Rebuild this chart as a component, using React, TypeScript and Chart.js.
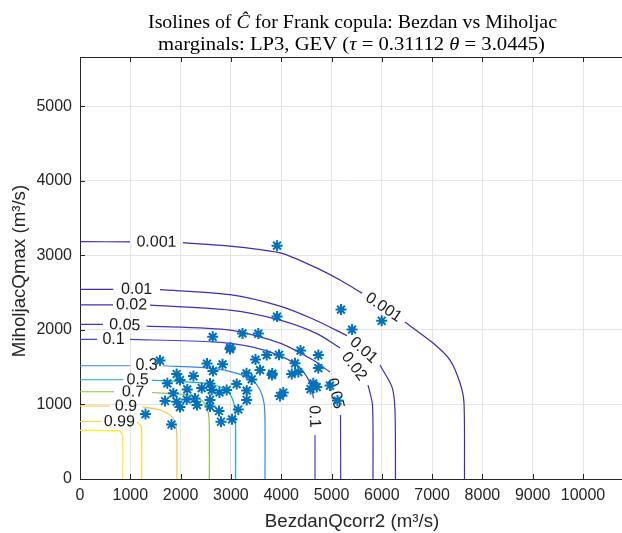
import React, { useEffect, useRef } from "react";
import { Chart, registerables } from "chart.js";

Chart.register(...registerables);

// Axis limits and ticks
const X_MAX = 10775;
const Y_MAX = 5660;
const X_TICKS = [0, 1000, 2000, 3000, 4000, 5000, 6000, 7000, 8000, 9000, 10000];
const Y_TICKS = [0, 1000, 2000, 3000, 4000, 5000];

// Observed annual maxima pairs (m3/s)
const BEZDAN_Q = [
  3917, 5189, 5998, 5408, 3917, 2638, 3231, 3545, 2988, 2982, 4384, 3712, 3956, 4738,
  3489, 1590, 4274, 4738, 3579, 3823, 3817, 4209, 4340, 3310, 3414, 4638, 4706, 4583,
  4970, 4042, 5119, 2525, 2833, 2644, 1922, 2256, 1988, 1736, 2584, 3115, 2420, 2133,
  2618, 2916, 2773, 3314, 3976, 1855, 1690, 1922, 2121, 2286, 2326, 1988, 2584, 3314,
  2584, 2763, 3147, 2803, 3022, 1302, 1819,
];
const MIHOLJAC_Q = [
  3130, 2272, 2122, 2004, 2178, 1907, 1953, 1950, 1763, 1743, 1723, 1662, 1666, 1662,
  1602, 1588, 1551, 1488, 1461, 1414, 1394, 1408, 1434, 1417, 1336, 1283, 1233, 1206,
  1253, 1160, 1052, 1548, 1538, 1448, 1408, 1381, 1327, 1283, 1280, 1273, 1220, 1202,
  1193, 1193, 1160, 1186, 1113, 1149, 1046, 1036, 1066, 1079, 992, 965, 1059, 1059,
  972, 912, 932, 768, 800, 871, 731,
];

// Isolines of the survival copula; null marks where an inline label breaks the line
const LEVELS = ["0.001", "0.01", "0.02", "0.05", "0.1", "0.3", "0.5", "0.7", "0.9", "0.99", "0.999"];
const LEVEL_COLORS = [
  "#3d2bb0", "#3e2eb6", "#3f30bb", "#4034c2", "#4540d4", "#2e88ee",
  "#17b3b8", "#8dc63c", "#f6c532", "#f3e02a", "#f8f218",
];
const ISO_0001_X = [0, 994, null, 2048, 2982, 3579, 4036, 4712, 5169, 5607, null, 6461, 7018, 7356, 7555, 7634, 7644];
const ISO_0001_Y = [3184, 3180, null, 3170, 3123, 3076, 3023, 2828, 2668, 2493, null, 2105, 1823, 1595, 1287, 1019, 0];
const ISO_001_X = [0, 662, null, 1590, 2982, 3976, 4632, 5308, null, 5964, 6203, 6262, 6272];
const ISO_001_Y = [2544, 2544, null, 2540, 2473, 2319, 2145, 1923, null, 1528, 1233, 925, 0];
const ISO_002_X = [0, 656, null, 1392, 2982, 3976, 4712, 5169, null, 5726, 5815, 5825];
const ISO_002_Y = [2336, 2336, null, 2332, 2265, 2131, 1950, 1756, null, 1260, 992, 0];
const ISO_005_X = [0, 457, null, 1326, 2982, 3976, 4632, 4970, null, 5179, 5183];
const ISO_005_Y = [2074, 2074, null, 2051, 1997, 1823, 1595, 1434, null, 858, 0];
const ISO_01_X = [0, 338, null, 994, 2644, 3439, 4036, 4374, 4573, 4642, null, 4672, 4672];
const ISO_01_Y = [1872, 1872, null, 1872, 1839, 1769, 1635, 1488, 1287, 1086, null, 590, 0];
const ISO_03_X = [0, 994, null, 1650, 2644, 3121, 3420, 3579, 3658, 3678, 3678];
const ISO_03_Y = [1519, 1519, null, 1519, 1484, 1417, 1327, 1193, 1019, 791, 0];
const ISO_05_X = [0, 861, null, 1431, 2525, 2922, 3052, 3091, 3095];
const ISO_05_Y = [1331, 1331, null, 1327, 1280, 1193, 1032, 791, 0];
const ISO_07_X = [0, 676, null, 1431, 2187, 2445, 2551, 2571, 2571];
const ISO_07_Y = [1170, 1170, null, 1160, 1126, 1039, 885, 700, 0];
const ISO_09_X = [0, 596, null, 1233, 1590, 1823, 1909, 1928, 1928];
const ISO_09_Y = [979, 979, null, 969, 925, 836, 701, 523, 0];
const ISO_099_X = [0, 431, null, 1133, 1213, 1227, 1227];
const ISO_099_Y = [771, 771, null, 764, 710, 590, 0];
const ISO_0999_X = [0, 761, 829, 849, 849];
const ISO_0999_Y = [653, 648, 612, 523, 0];

const ISO_XS = [ISO_0001_X, ISO_001_X, ISO_002_X, ISO_005_X, ISO_01_X, ISO_03_X, ISO_05_X, ISO_07_X, ISO_09_X, ISO_099_X, ISO_0999_X];
const ISO_YS = [ISO_0001_Y, ISO_001_Y, ISO_002_Y, ISO_005_Y, ISO_01_Y, ISO_03_Y, ISO_05_Y, ISO_07_Y, ISO_09_Y, ISO_099_Y, ISO_0999_Y];

const AXIS_COLOR = "#262626";
const GRID_COLOR = "#e4e4e4";
const MARKER_COLOR = "#0072bd";
const SANS = "'Liberation Sans', Arial, Helvetica, sans-serif";
const SERIF = "'Liberation Serif', 'Times New Roman', serif";

type Seg = [string, boolean];
const TITLE_LINES: Seg[][] = [
  [["Isolines of ", false], ["Ĉ", true], [" for Frank copula: Bezdan vs Miholjac", false]],
  [["marginals: LP3, GEV (", false], ["τ", true], [" = 0.31112 ", false], ["θ", true], [" = 3.0445)", false]],
];
const TITLE_WIDTHS = [409, 387];

function toPoints(xs: (number | null)[], ys: (number | null)[]) {
  const pts: { x: number; y: number | null }[] = [];
  xs.forEach((x, i) => {
    if (x === null || ys[i] === null) {
      const prev = pts.length ? pts[pts.length - 1].x : 0;
      pts.push({ x: prev, y: null });
    } else {
      pts.push({ x, y: ys[i] as number });
    }
  });
  return pts;
}

// Draws a line of mixed upright/italic text, centred and stretched to a given width
function drawSegments(ctx: CanvasRenderingContext2D, segs: Seg[], cx: number, baseline: number, size: number, width: number) {
  const fontFor = (it: boolean) => `${it ? "italic " : ""}${size}px ${SERIF}`;
  let total = 0;
  const widths = segs.map(([t, it]) => {
    ctx.font = fontFor(it);
    const w = ctx.measureText(t).width;
    total += w;
    return w;
  });
  const sx = width / total;
  ctx.save();
  ctx.translate(cx - width / 2, baseline);
  ctx.scale(sx, 1);
  ctx.textAlign = "left";
  ctx.textBaseline = "alphabetic";
  let x = 0;
  segs.forEach(([t, it], i) => {
    ctx.font = fontFor(it);
    ctx.fillText(t, x, 0);
    x += widths[i];
  });
  ctx.restore();
}

const contourLabels = {
  id: "contourLabels",
  beforeDatasetDraw(chart: any, args: any) {
    if (args.index !== 0) return;
    const { ctx, scales } = chart;
    const xs = scales.x;
    const ys = scales.y;
    ctx.save();
    ctx.fillStyle = "#1a1a1a";
    ctx.font = `16px ${SANS}`;
    ctx.textAlign = "center";
    ctx.textBaseline = "middle";
    ISO_XS.forEach((xArr, li) => {
      const yArr = ISO_YS[li];
      xArr.forEach((x, i) => {
        if (x !== null) return;
        const x0 = xs.getPixelForValue(xArr[i - 1] as number);
        const y0 = ys.getPixelForValue(yArr[i - 1] as number);
        const x1 = xs.getPixelForValue(xArr[i + 1] as number);
        const y1 = ys.getPixelForValue(yArr[i + 1] as number);
        let ang = Math.atan2(y1 - y0, x1 - x0);
        if (ang > Math.PI / 2) ang -= Math.PI;
        if (ang < -Math.PI / 2) ang += Math.PI;
        ctx.save();
        ctx.translate((x0 + x1) / 2, (y0 + y1) / 2);
        ctx.rotate(ang);
        ctx.fillText(LEVELS[li], 0, 0);
        ctx.restore();
      });
    });
    ctx.restore();
  },
};

const frame = {
  id: "frame",
  afterDraw(chart: any) {
    const { ctx, chartArea, scales } = chart;
    const { left, top, right, bottom } = chartArea;
    ctx.save();
    ctx.strokeStyle = AXIS_COLOR;
    ctx.lineWidth = 1;
    ctx.beginPath();
    ctx.moveTo(left, Math.round(top) + 0.5);
    ctx.lineTo(right, Math.round(top) + 0.5);
    X_TICKS.forEach((v) => {
      const px = Math.round(scales.x.getPixelForValue(v)) + 0.5;
      ctx.moveTo(px, bottom);
      ctx.lineTo(px, bottom - 5);
      ctx.moveTo(px, top);
      ctx.lineTo(px, top + 5);
    });
    Y_TICKS.forEach((v) => {
      const py = Math.round(scales.y.getPixelForValue(v)) + 0.5;
      ctx.moveTo(left, py);
      ctx.lineTo(left + 5, py);
    });
    ctx.stroke();

    // Title
    ctx.fillStyle = "#000";
    drawSegments(ctx, TITLE_LINES[0], 352.5, 27.5, 18, TITLE_WIDTHS[0]);
    drawSegments(ctx, TITLE_LINES[1], 351.5, 49.5, 18, TITLE_WIDTHS[1]);

    // Axis titles
    ctx.fillStyle = AXIS_COLOR;
    ctx.font = `18.7px ${SANS}`;
    ctx.textAlign = "center";
    ctx.textBaseline = "middle";
    ctx.fillText("BezdanQcorr2 (m³/s)", 352, 522);
    ctx.save();
    ctx.translate(20, 271);
    ctx.rotate(-Math.PI / 2);
    ctx.fillText("MiholjacQmax (m³/s)", 0, 0);
    ctx.restore();
    ctx.restore();
  },
};

export default function App() {
  const ref = useRef<HTMLCanvasElement>(null);

  useEffect(() => {
    const canvas = ref.current;
    if (!canvas) return;

    const scatter = {
      data: BEZDAN_Q.map((x, i) => ({ x, y: MIHOLJAC_Q[i] })),
      showLine: false,
      pointStyle: "star",
      pointRadius: 5.5,
      pointBorderWidth: 2,
      pointBorderColor: MARKER_COLOR,
      pointBackgroundColor: MARKER_COLOR,
      borderColor: MARKER_COLOR,
    };
    const isolines = ISO_XS.map((xArr, li) => ({
      data: toPoints(xArr, ISO_YS[li]),
      borderColor: LEVEL_COLORS[li],
      borderWidth: 1.2,
      pointRadius: 0,
      tension: 0.25,
      spanGaps: false,
      fill: false,
    }));

    const tickFont = { family: SANS, size: 16 };

    const chart = new Chart(canvas, {
      type: "line",
      data: { datasets: [scatter, ...isolines] as any },
      options: {
        responsive: false,
        animation: false,
        devicePixelRatio: 1,
        layout: { autoPadding: false, padding: { top: 57, left: 0, right: 0, bottom: 0 } },
        plugins: {
          legend: { display: false },
          tooltip: { enabled: false },
          title: { display: false },
        },
        scales: {
          x: {
            type: "linear",
            min: 0,
            max: X_MAX,
            afterBuildTicks: (s: any) => {
              s.ticks = X_TICKS.map((v) => ({ value: v }));
            },
            afterFit: (s: any) => {
              s.height = 54;
              s.paddingLeft = 0;
              s.paddingRight = 0;
            },
            grid: { color: GRID_COLOR, lineWidth: 1, drawTicks: false },
            border: { display: true, color: AXIS_COLOR, width: 1 },
            ticks: {
              color: AXIS_COLOR,
              font: tickFont,
              padding: 7,
              maxRotation: 0,
              autoSkip: false,
              callback: (v: any) => String(v),
            },
          },
          y: {
            type: "linear",
            min: 0,
            max: Y_MAX,
            afterBuildTicks: (s: any) => {
              s.ticks = Y_TICKS.map((v) => ({ value: v }));
            },
            afterFit: (s: any) => {
              s.width = 80;
              s.paddingTop = 0;
              s.paddingBottom = 0;
            },
            grid: { color: GRID_COLOR, lineWidth: 1, drawTicks: false },
            border: { display: true, color: AXIS_COLOR, width: 1 },
            ticks: {
              color: AXIS_COLOR,
              font: tickFont,
              padding: 8,
              autoSkip: false,
              callback: (v: any) => String(v),
            },
          },
        },
      },
      plugins: [contourLabels, frame],
    });

    return () => chart.destroy();
  }, []);

  return (
    <div style={{ position: "fixed", left: 0, top: 0, width: 622, height: 533, background: "#fff" }}>
      <canvas ref={ref} width={622} height={533} style={{ display: "block", width: 622, height: 533 }} />
    </div>
  );
}
